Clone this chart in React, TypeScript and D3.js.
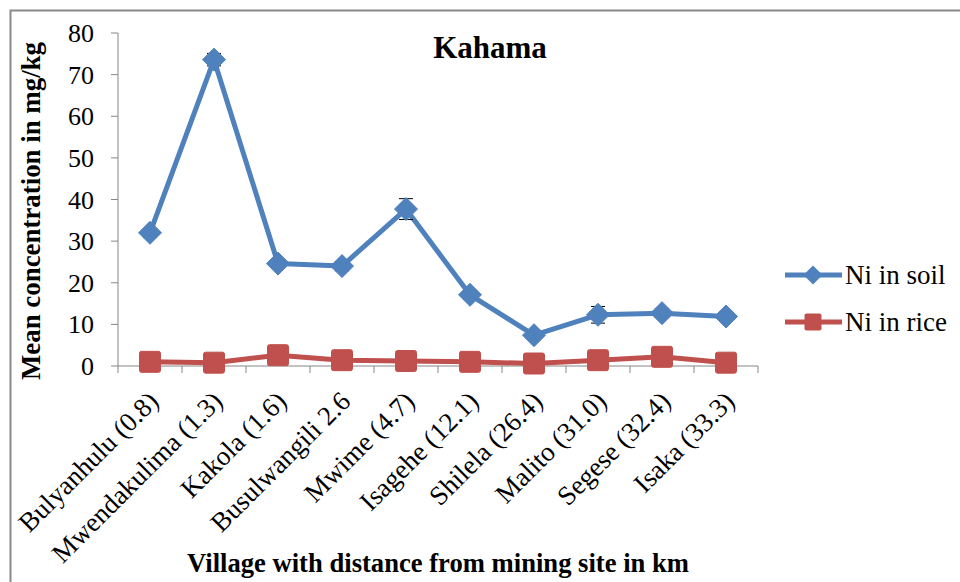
import * as d3 from 'd3';

const villages = [
  'Bulyanhulu (0.8)',
  'Mwendakulima (1.3)',
  'Kakola (1.6)',
  'Busulwangili 2.6',
  'Mwime (4.7)',
  'Isagehe (12.1)',
  'Shilela (26.4)',
  'Malito (31.0)',
  'Segese (32.4)',
  'Isaka (33.3)',
];
const niSoil = [32.0, 73.6, 24.6, 24.0, 37.7, 17.1, 7.4, 12.3, 12.7, 11.9];
const niSoilErr = [1.0, 1.5, 1.0, 1.1, 2.5, 1.0, 1.0, 2.0, 1.0, 1.2];
const niRice = [1.0, 0.8, 2.6, 1.4, 1.2, 1.0, 0.6, 1.4, 2.2, 0.8];
const yTicks = [0, 10, 20, 30, 40, 50, 60, 70, 80];

const W = 960;
const H = 582;
const FONT = "'Liberation Serif', 'DejaVu Serif', serif";
const BLUE = '#4F81BD';
const RED = '#C0504D';
const AXIS = '#868686';

export default function App() {
  const x = d3.scaleBand<string>().domain(villages).range([118, 758]);
  const y = d3.scaleLinear().domain([0, 80]).range([366, 33]);
  const cx = (i: number) => x(villages[i])! + x.bandwidth() / 2;

  const line = d3.line<number>().x((_, i) => cx(i)).y(d => y(d));

  const diamond = (r: number) => `M0,${-r}L${r},0L0,${r}L${-r},0Z`;

  const boundaries = villages.map(v => x(v)!).concat([758]);

  return (
    <svg
      width={W}
      height={H}
      style={{ position: 'fixed', left: 0, top: 0, background: '#fff' }}
      fontFamily={FONT}
    >
      <rect x={10.5} y={10.5} width={1000} height={1000} fill="#fff" stroke="#898989" strokeWidth={2} />

      {/* title */}
      <text x={490} y={58} textAnchor="middle" fontSize={31} fontWeight="bold">Kahama</text>

      {/* y axis */}
      <line x1={118} x2={118} y1={y(80)} y2={y(0)} stroke={AXIS} strokeWidth={1} />
      {yTicks.map(t => (
        <g key={t}>
          <line x1={111} x2={118} y1={y(t)} y2={y(t)} stroke={AXIS} />
          <text x={94} y={y(t)} dy="0.35em" textAnchor="end" fontSize={26}>{t}</text>
        </g>
      ))}
      <text
        transform={`translate(40,211) rotate(-90)`}
        textAnchor="middle"
        fontSize={27}
        fontWeight="bold"
        textLength={338}
        lengthAdjust="spacingAndGlyphs"
      >
        Mean concentration in mg/kg
      </text>

      {/* x axis */}
      <line x1={118} x2={758} y1={y(0)} y2={y(0)} stroke={AXIS} />
      {boundaries.map((b, i) => (
        <line key={i} x1={b} x2={b} y1={y(0)} y2={y(0) + 7} stroke={AXIS} />
      ))}
      {villages.map((v, i) => (
        <text
          key={v}
          transform={`translate(${cx(i) + 10},403) rotate(-45)`}
          textAnchor="end"
          fontSize={27}
        >
          {v}
        </text>
      ))}
      <text
        x={438}
        y={572}
        textAnchor="middle"
        fontSize={27}
        fontWeight="bold"
        textLength={502}
        lengthAdjust="spacingAndGlyphs"
      >
        Village with distance from mining site in km
      </text>

      {/* soil series */}
      <path d={line(niSoil)!} fill="none" stroke={BLUE} strokeWidth={5} strokeLinejoin="round" />
      {niSoil.map((v, i) => (
        <g key={i} stroke="#000" strokeWidth={1}>
          <line x1={cx(i)} x2={cx(i)} y1={y(v + niSoilErr[i])} y2={y(v - niSoilErr[i])} />
          <line x1={cx(i) - 7} x2={cx(i) + 7} y1={y(v + niSoilErr[i])} y2={y(v + niSoilErr[i])} />
          <line x1={cx(i) - 7} x2={cx(i) + 7} y1={y(v - niSoilErr[i])} y2={y(v - niSoilErr[i])} />
        </g>
      ))}
      {niSoil.map((v, i) => (
        <path key={i} d={diamond(11.5)} transform={`translate(${cx(i)},${y(v)})`} fill={BLUE} stroke={BLUE} strokeWidth={1} />
      ))}

      {/* rice series */}
      <path d={line(niRice)!} fill="none" stroke={RED} strokeWidth={5} strokeLinejoin="round" />
      {niRice.map((v, i) => (
        <rect key={i} x={cx(i) - 10.5} y={y(v) - 10.5} width={21} height={21} rx={2} fill={RED} stroke={RED} strokeWidth={1} />
      ))}

      {/* legend */}
      <line x1={785} x2={842} y1={275} y2={275} stroke={BLUE} strokeWidth={5} />
      <path d={diamond(9.5)} transform="translate(813,275)" fill={BLUE} />
      <text x={845} y={284} fontSize={27}>Ni in soil</text>
      <line x1={785} x2={842} y1={322} y2={322} stroke={RED} strokeWidth={5} />
      <rect x={804.5} y={313.5} width={17} height={17} rx={2} fill={RED} />
      <text x={845} y={331} fontSize={27}>Ni in rice</text>
    </svg>
  );
}
